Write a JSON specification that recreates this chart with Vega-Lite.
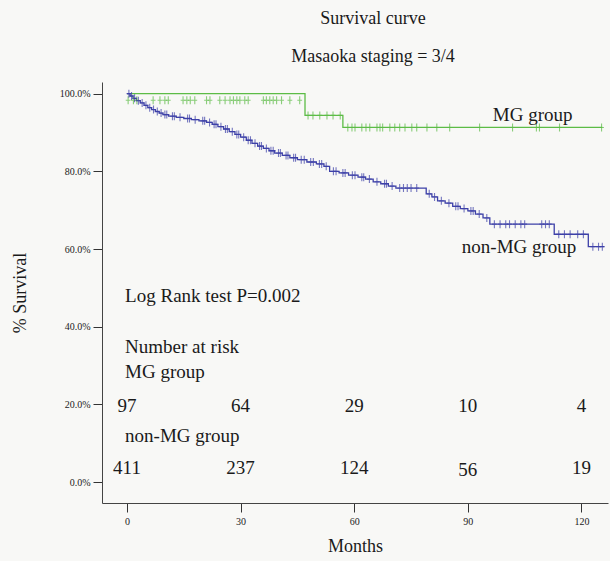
{
  "$schema": "https://vega.github.io/schema/vega-lite/v6.json",
  "width": 506,
  "height": 421,
  "autosize": {"type": "none"},
  "padding": {"left": 102, "top": 82, "right": 2, "bottom": 58},
  "background": "#f8f8f6",
  "config": {
    "view": {"stroke": null},
    "font": "Liberation Serif",
    "axis": {
      "labelFont": "Liberation Serif",
      "titleFont": "Liberation Serif",
      "labelColor": "#222222",
      "titleColor": "#1a1a1a",
      "titleFontWeight": "normal",
      "titleFontSize": 18,
      "labelFontSize": 10,
      "tickColor": "#333333",
      "domainColor": "#444444",
      "grid": false
    }
  },
  "title": {
    "text": "Survival curve",
    "subtitle": "Masaoka staging = 3/4",
    "font": "Liberation Serif",
    "subtitleFont": "Liberation Serif",
    "fontSize": 18,
    "subtitleFontSize": 18,
    "fontWeight": "normal",
    "color": "#1a1a1a",
    "subtitleColor": "#1a1a1a",
    "anchor": "middle",
    "dx": 18,
    "offset": 16,
    "subtitlePadding": 20
  },
  "datasets": {
    "curves": [
      {"group": "MG", "month": 0, "pct": 100},
      {"group": "MG", "month": 47, "pct": 94.4},
      {"group": "MG", "month": 57, "pct": 91.3},
      {"group": "MG", "month": 125.5, "pct": 91.3},
      {"group": "nonMG", "month": 0, "pct": 100},
      {"group": "nonMG", "month": 0.8, "pct": 99.4},
      {"group": "nonMG", "month": 1.6, "pct": 98.8},
      {"group": "nonMG", "month": 2.5, "pct": 98.2},
      {"group": "nonMG", "month": 3.5, "pct": 97.6},
      {"group": "nonMG", "month": 4.5, "pct": 97.0},
      {"group": "nonMG", "month": 5.5, "pct": 96.4},
      {"group": "nonMG", "month": 6.5, "pct": 95.9},
      {"group": "nonMG", "month": 7.5, "pct": 95.4},
      {"group": "nonMG", "month": 8.5, "pct": 95.0},
      {"group": "nonMG", "month": 9.5, "pct": 94.6},
      {"group": "nonMG", "month": 11, "pct": 94.2},
      {"group": "nonMG", "month": 13, "pct": 93.9},
      {"group": "nonMG", "month": 15, "pct": 93.6},
      {"group": "nonMG", "month": 17, "pct": 93.3},
      {"group": "nonMG", "month": 19, "pct": 93.0},
      {"group": "nonMG", "month": 21, "pct": 92.6},
      {"group": "nonMG", "month": 22.5, "pct": 92.1},
      {"group": "nonMG", "month": 24, "pct": 91.5},
      {"group": "nonMG", "month": 25.5, "pct": 90.9},
      {"group": "nonMG", "month": 27, "pct": 90.2},
      {"group": "nonMG", "month": 28.5, "pct": 89.5},
      {"group": "nonMG", "month": 30, "pct": 88.8},
      {"group": "nonMG", "month": 31.5, "pct": 88.0},
      {"group": "nonMG", "month": 33, "pct": 87.2},
      {"group": "nonMG", "month": 34.5, "pct": 86.5},
      {"group": "nonMG", "month": 36, "pct": 85.9},
      {"group": "nonMG", "month": 37.5, "pct": 85.3},
      {"group": "nonMG", "month": 39, "pct": 84.7},
      {"group": "nonMG", "month": 41, "pct": 84.1},
      {"group": "nonMG", "month": 43, "pct": 83.5},
      {"group": "nonMG", "month": 45, "pct": 83.0},
      {"group": "nonMG", "month": 47.5, "pct": 82.4},
      {"group": "nonMG", "month": 50, "pct": 81.9},
      {"group": "nonMG", "month": 52, "pct": 81.3},
      {"group": "nonMG", "month": 53.5, "pct": 80.0},
      {"group": "nonMG", "month": 56, "pct": 79.6},
      {"group": "nonMG", "month": 58.5, "pct": 79.0},
      {"group": "nonMG", "month": 61, "pct": 78.5},
      {"group": "nonMG", "month": 63, "pct": 78.0},
      {"group": "nonMG", "month": 65, "pct": 77.3},
      {"group": "nonMG", "month": 67, "pct": 76.8},
      {"group": "nonMG", "month": 69, "pct": 76.2},
      {"group": "nonMG", "month": 71, "pct": 75.7},
      {"group": "nonMG", "month": 79, "pct": 74.2},
      {"group": "nonMG", "month": 80.5, "pct": 73.4},
      {"group": "nonMG", "month": 82, "pct": 72.4},
      {"group": "nonMG", "month": 84, "pct": 71.8},
      {"group": "nonMG", "month": 86, "pct": 71.0},
      {"group": "nonMG", "month": 88, "pct": 70.4},
      {"group": "nonMG", "month": 90, "pct": 69.8},
      {"group": "nonMG", "month": 92, "pct": 69.0},
      {"group": "nonMG", "month": 94, "pct": 68.0},
      {"group": "nonMG", "month": 95.8, "pct": 66.4},
      {"group": "nonMG", "month": 112.8, "pct": 63.8},
      {"group": "nonMG", "month": 121.8, "pct": 60.6},
      {"group": "nonMG", "month": 126, "pct": 60.6}
    ],
    "censors": [
      {"group": "MG", "month": 0.3, "pct": 98.3},
      {"group": "MG", "month": 1.7, "pct": 98.3},
      {"group": "MG", "month": 2.6, "pct": 98.3},
      {"group": "MG", "month": 6.9, "pct": 98.3},
      {"group": "MG", "month": 8.7, "pct": 98.3},
      {"group": "MG", "month": 10.0, "pct": 98.3},
      {"group": "MG", "month": 10.9, "pct": 98.3},
      {"group": "MG", "month": 14.8, "pct": 98.3},
      {"group": "MG", "month": 15.8, "pct": 98.3},
      {"group": "MG", "month": 16.7, "pct": 98.3},
      {"group": "MG", "month": 17.9, "pct": 98.3},
      {"group": "MG", "month": 21.0, "pct": 98.3},
      {"group": "MG", "month": 21.9, "pct": 98.3},
      {"group": "MG", "month": 24.5, "pct": 98.3},
      {"group": "MG", "month": 25.9, "pct": 98.3},
      {"group": "MG", "month": 27.2, "pct": 98.3},
      {"group": "MG", "month": 28.1, "pct": 98.3},
      {"group": "MG", "month": 29.0, "pct": 98.3},
      {"group": "MG", "month": 29.8, "pct": 98.3},
      {"group": "MG", "month": 31.1, "pct": 98.3},
      {"group": "MG", "month": 32.0, "pct": 98.3},
      {"group": "MG", "month": 36.0, "pct": 98.3},
      {"group": "MG", "month": 36.8, "pct": 98.3},
      {"group": "MG", "month": 37.7, "pct": 98.3},
      {"group": "MG", "month": 38.6, "pct": 98.3},
      {"group": "MG", "month": 39.5, "pct": 98.3},
      {"group": "MG", "month": 40.8, "pct": 98.3},
      {"group": "MG", "month": 43.0, "pct": 98.3},
      {"group": "MG", "month": 45.6, "pct": 98.3},
      {"group": "MG", "month": 47.8, "pct": 94.4},
      {"group": "MG", "month": 49.1, "pct": 94.4},
      {"group": "MG", "month": 50.9, "pct": 94.4},
      {"group": "MG", "month": 52.8, "pct": 94.4},
      {"group": "MG", "month": 54.4, "pct": 94.4},
      {"group": "MG", "month": 56.3, "pct": 94.4},
      {"group": "MG", "month": 58.3, "pct": 91.3},
      {"group": "MG", "month": 59.4, "pct": 91.3},
      {"group": "MG", "month": 60.2, "pct": 91.3},
      {"group": "MG", "month": 62.0, "pct": 91.3},
      {"group": "MG", "month": 63.1, "pct": 91.3},
      {"group": "MG", "month": 64.1, "pct": 91.3},
      {"group": "MG", "month": 66.0, "pct": 91.3},
      {"group": "MG", "month": 66.8, "pct": 91.3},
      {"group": "MG", "month": 67.5, "pct": 91.3},
      {"group": "MG", "month": 69.4, "pct": 91.3},
      {"group": "MG", "month": 70.7, "pct": 91.3},
      {"group": "MG", "month": 72.0, "pct": 91.3},
      {"group": "MG", "month": 73.4, "pct": 91.3},
      {"group": "MG", "month": 75.2, "pct": 91.3},
      {"group": "MG", "month": 76.5, "pct": 91.3},
      {"group": "MG", "month": 79.2, "pct": 91.3},
      {"group": "MG", "month": 81.8, "pct": 91.3},
      {"group": "MG", "month": 85.2, "pct": 91.3},
      {"group": "MG", "month": 93.1, "pct": 91.3},
      {"group": "MG", "month": 101.8, "pct": 91.3},
      {"group": "MG", "month": 108.1, "pct": 91.3},
      {"group": "MG", "month": 108.9, "pct": 91.3},
      {"group": "MG", "month": 114.2, "pct": 91.3},
      {"group": "MG", "month": 125.3, "pct": 91.3},
      {"group": "nonMG", "month": 0.5, "pct": 100},
      {"group": "nonMG", "month": 1.2, "pct": 99.4},
      {"group": "nonMG", "month": 2, "pct": 98.8},
      {"group": "nonMG", "month": 3, "pct": 98.2},
      {"group": "nonMG", "month": 4, "pct": 97.6},
      {"group": "nonMG", "month": 5, "pct": 97.0},
      {"group": "nonMG", "month": 6, "pct": 96.4},
      {"group": "nonMG", "month": 7, "pct": 95.9},
      {"group": "nonMG", "month": 8, "pct": 95.4},
      {"group": "nonMG", "month": 9, "pct": 95.0},
      {"group": "nonMG", "month": 10, "pct": 94.6},
      {"group": "nonMG", "month": 10.5, "pct": 94.6},
      {"group": "nonMG", "month": 12, "pct": 94.2},
      {"group": "nonMG", "month": 12.5, "pct": 94.2},
      {"group": "nonMG", "month": 14, "pct": 93.9},
      {"group": "nonMG", "month": 16, "pct": 93.6},
      {"group": "nonMG", "month": 16.5, "pct": 93.6},
      {"group": "nonMG", "month": 18, "pct": 93.3},
      {"group": "nonMG", "month": 20, "pct": 93.0},
      {"group": "nonMG", "month": 20.5, "pct": 93.0},
      {"group": "nonMG", "month": 21.8, "pct": 92.6},
      {"group": "nonMG", "month": 23, "pct": 92.1},
      {"group": "nonMG", "month": 23.5, "pct": 92.1},
      {"group": "nonMG", "month": 24.8, "pct": 91.5},
      {"group": "nonMG", "month": 26, "pct": 90.9},
      {"group": "nonMG", "month": 26.5, "pct": 90.9},
      {"group": "nonMG", "month": 27.8, "pct": 90.2},
      {"group": "nonMG", "month": 29, "pct": 89.5},
      {"group": "nonMG", "month": 29.5, "pct": 89.5},
      {"group": "nonMG", "month": 30.8, "pct": 88.8},
      {"group": "nonMG", "month": 32, "pct": 88.0},
      {"group": "nonMG", "month": 32.6, "pct": 88.0},
      {"group": "nonMG", "month": 33.8, "pct": 87.2},
      {"group": "nonMG", "month": 35, "pct": 86.5},
      {"group": "nonMG", "month": 35.5, "pct": 86.5},
      {"group": "nonMG", "month": 36.8, "pct": 85.9},
      {"group": "nonMG", "month": 38, "pct": 85.3},
      {"group": "nonMG", "month": 38.6, "pct": 85.3},
      {"group": "nonMG", "month": 40, "pct": 84.7},
      {"group": "nonMG", "month": 40.5, "pct": 84.7},
      {"group": "nonMG", "month": 42, "pct": 84.1},
      {"group": "nonMG", "month": 42.5, "pct": 84.1},
      {"group": "nonMG", "month": 44, "pct": 83.5},
      {"group": "nonMG", "month": 44.5, "pct": 83.5},
      {"group": "nonMG", "month": 46, "pct": 83.0},
      {"group": "nonMG", "month": 46.8, "pct": 83.0},
      {"group": "nonMG", "month": 48.5, "pct": 82.4},
      {"group": "nonMG", "month": 49.2, "pct": 82.4},
      {"group": "nonMG", "month": 50.8, "pct": 81.9},
      {"group": "nonMG", "month": 51.4, "pct": 81.9},
      {"group": "nonMG", "month": 52.6, "pct": 81.3},
      {"group": "nonMG", "month": 54.5, "pct": 80.0},
      {"group": "nonMG", "month": 55.2, "pct": 80.0},
      {"group": "nonMG", "month": 57, "pct": 79.6},
      {"group": "nonMG", "month": 57.6, "pct": 79.6},
      {"group": "nonMG", "month": 59.5, "pct": 79.0},
      {"group": "nonMG", "month": 60.2, "pct": 79.0},
      {"group": "nonMG", "month": 62, "pct": 78.5},
      {"group": "nonMG", "month": 62.5, "pct": 78.5},
      {"group": "nonMG", "month": 64, "pct": 78.0},
      {"group": "nonMG", "month": 66, "pct": 77.3},
      {"group": "nonMG", "month": 68, "pct": 76.8},
      {"group": "nonMG", "month": 68.5, "pct": 76.8},
      {"group": "nonMG", "month": 70, "pct": 76.2},
      {"group": "nonMG", "month": 72, "pct": 75.7},
      {"group": "nonMG", "month": 73, "pct": 75.7},
      {"group": "nonMG", "month": 74, "pct": 75.7},
      {"group": "nonMG", "month": 75, "pct": 75.7},
      {"group": "nonMG", "month": 76.5, "pct": 75.7},
      {"group": "nonMG", "month": 79.8, "pct": 74.2},
      {"group": "nonMG", "month": 81.2, "pct": 73.4},
      {"group": "nonMG", "month": 83, "pct": 72.4},
      {"group": "nonMG", "month": 85, "pct": 71.8},
      {"group": "nonMG", "month": 86.8, "pct": 71.0},
      {"group": "nonMG", "month": 87.4, "pct": 71.0},
      {"group": "nonMG", "month": 89, "pct": 70.4},
      {"group": "nonMG", "month": 90.8, "pct": 69.8},
      {"group": "nonMG", "month": 91.4, "pct": 69.8},
      {"group": "nonMG", "month": 93, "pct": 69.0},
      {"group": "nonMG", "month": 95, "pct": 68.0},
      {"group": "nonMG", "month": 97, "pct": 66.4},
      {"group": "nonMG", "month": 98.5, "pct": 66.4},
      {"group": "nonMG", "month": 100, "pct": 66.4},
      {"group": "nonMG", "month": 101, "pct": 66.4},
      {"group": "nonMG", "month": 102.5, "pct": 66.4},
      {"group": "nonMG", "month": 104, "pct": 66.4},
      {"group": "nonMG", "month": 105, "pct": 66.4},
      {"group": "nonMG", "month": 109.5, "pct": 66.4},
      {"group": "nonMG", "month": 110.5, "pct": 66.4},
      {"group": "nonMG", "month": 111.5, "pct": 66.4},
      {"group": "nonMG", "month": 114, "pct": 63.8},
      {"group": "nonMG", "month": 115.5, "pct": 63.8},
      {"group": "nonMG", "month": 117, "pct": 63.8},
      {"group": "nonMG", "month": 119, "pct": 63.8},
      {"group": "nonMG", "month": 120.5, "pct": 63.8},
      {"group": "nonMG", "month": 123, "pct": 60.6},
      {"group": "nonMG", "month": 124.5, "pct": 60.6},
      {"group": "nonMG", "month": 125.5, "pct": 60.6}
    ],
    "notes": [
      {"label": "Log Rank test P=0.002", "month": -0.5, "pct": 48.0},
      {"label": "Number at risk", "month": -0.5, "pct": 34.7},
      {"label": "MG group", "month": -0.5, "pct": 28.3},
      {"label": "non-MG group", "month": -0.5, "pct": 11.8},
      {"label": "MG group", "month": 96.6, "pct": 94.4},
      {"label": "non-MG group", "month": 88.4, "pct": 60.6}
    ],
    "risk": [
      {"n": "97", "month": 0, "pct": 19.5},
      {"n": "64", "month": 30, "pct": 19.5},
      {"n": "29", "month": 60, "pct": 19.5},
      {"n": "10", "month": 90, "pct": 19.5},
      {"n": "4", "month": 120, "pct": 19.5},
      {"n": "411", "month": 0, "pct": 3.7},
      {"n": "237", "month": 30, "pct": 3.7},
      {"n": "124", "month": 60, "pct": 3.7},
      {"n": "56", "month": 90, "pct": 3.2},
      {"n": "19", "month": 120, "pct": 3.7}
    ]
  },
  "encoding": {
    "x": {
      "field": "month",
      "type": "quantitative",
      "scale": {"domain": [-6.6, 127], "nice": false, "zero": false},
      "axis": {"values": [0, 30, 60, 90, 120], "title": "Months", "tickSize": 9, "labelPadding": 4, "titlePadding": 11, "labelFontSize": 10}
    },
    "y": {
      "field": "pct",
      "type": "quantitative",
      "scale": {"domain": [-5.4, 103], "nice": false, "zero": false},
      "axis": {"values": [0, 20, 40, 60, 80, 100], "labelExpr": "format(datum.value, '.1f') + '%'", "title": "% Survival", "tickSize": 9, "labelPadding": 3, "titlePadding": 30, "labelFontSize": 10}
    }
  },
  "layer": [
    {
      "data": {"name": "curves"},
      "mark": {"type": "line", "interpolate": "step-after", "strokeWidth": 1.3},
      "encoding": {
        "color": {"field": "group", "type": "nominal", "scale": {"domain": ["MG", "nonMG"], "range": ["#5cbc46", "#3d40a8"]}, "legend": null},
        "detail": {"field": "group"}
      }
    },
    {
      "data": {"name": "censors"},
      "mark": {"type": "point", "shape": "M0,-1L0,1M-0.6,0L0.6,0", "filled": false, "strokeWidth": 1.1, "size": 64},
      "encoding": {
        "color": {"field": "group", "type": "nominal", "scale": {"domain": ["MG", "nonMG"], "range": ["#5cbc46", "#3d40a8"]}, "legend": null}
      }
    },
    {
      "data": {"name": "notes"},
      "mark": {"type": "text", "align": "left", "baseline": "middle", "fontSize": 19, "font": "Liberation Serif", "color": "#1a1a1a"},
      "encoding": {"text": {"field": "label"}}
    },
    {
      "data": {"name": "risk"},
      "mark": {"type": "text", "align": "center", "baseline": "middle", "fontSize": 19, "font": "Liberation Serif", "color": "#1a1a1a"},
      "encoding": {"text": {"field": "n"}}
    }
  ]
}
